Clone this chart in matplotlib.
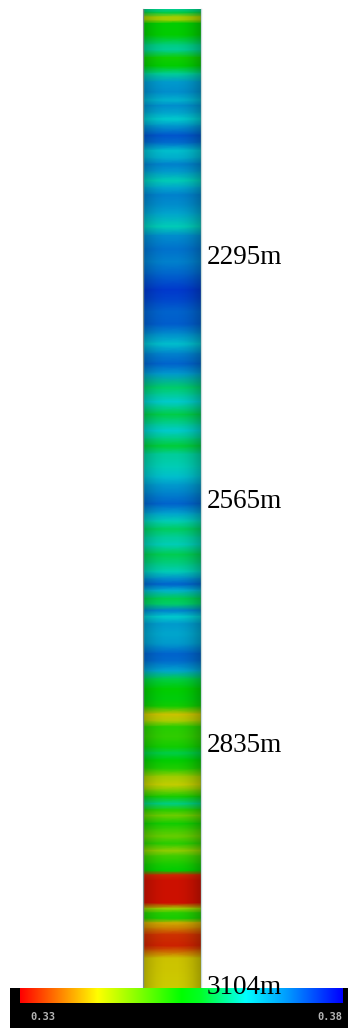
import numpy as np
import matplotlib
matplotlib.use('Agg')
import matplotlib.pyplot as plt
from matplotlib.colors import LinearSegmentedColormap, Normalize
import matplotlib.transforms as mtransforms

W, H = 348, 1028

# depth samples along the well (m) and the logged value at each
depth = [2020, 2024, 2029, 2032, 2036, 2049, 2060, 2065, 2074, 2083,
         2092, 2101, 2112, 2121, 2127, 2135, 2142, 2149, 2160, 2168,
         2177, 2185, 2192, 2200, 2210, 2218, 2226, 2237, 2247, 2261,
         2271, 2286, 2300, 2314, 2331, 2342, 2355, 2369, 2380, 2391,
         2402, 2413, 2424, 2439, 2447, 2455, 2469, 2480, 2487, 2496,
         2504, 2513, 2527, 2538, 2547, 2557, 2568, 2579, 2587, 2596,
         2605, 2613, 2624, 2634, 2643, 2651, 2657, 2664, 2673, 2679,
         2686, 2693, 2701, 2712, 2723, 2734, 2742, 2753, 2762, 2773,
         2784, 2792, 2801, 2808, 2815, 2826, 2837, 2844, 2852, 2861,
         2870, 2879, 2885, 2892, 2900, 2907, 2913, 2922, 2929, 2936,
         2944, 2952, 2958, 2967, 2974, 2979, 2985, 3010, 3016, 3021,
         3027, 3032, 3038, 3045, 3057, 3062, 3071, 3104]
value = [.3630, .3595, .3445, .3445, .3550, .3550, .3620, .3630, .3540, .3550,
         .3630, .3690, .3700, .3670, .3700, .3680, .3650, .3690, .3740, .3725,
         .3660, .3675, .3710, .3690, .3640, .3680, .3710, .3700, .3680, .3640,
         .3700, .3720, .3710, .3730, .3760, .3750, .3730, .3735, .3700, .3660,
         .3710, .3730, .3690, .3610, .3630, .3650, .3595, .3630, .3650, .3620,
         .3590, .3630, .3640, .3660, .3690, .3710, .3730, .3680, .3640, .3605,
         .3630, .3640, .3600, .3620, .3640, .3700, .3730, .3670, .3600, .3610,
         .3710, .3650, .3690, .3680, .3690, .3730, .3725, .3680, .3595, .3550,
         .3560, .3540, .3415, .3440, .3525, .3520, .3540, .3595, .3550, .3530,
         .3450, .3425, .3470, .3535, .3620, .3525, .3480, .3540, .3510, .3485,
         .3525, .3460, .3510, .3535, .3550, .3325, .3310, .3310, .3450, .3525,
         .3535, .3400, .3375, .3330, .3320, .3350, .3415, .3420]

depth_ticks = [2295, 2565, 2835, 3104]
vmin, vmax = 0.33, 0.38
cbar_labels = ['0.33', '0.38']

cmap = LinearSegmentedColormap.from_list('log', [
    (0.00, (1.0, 0.0, 0.0)),
    (0.12, (1.0, 0.5, 0.0)),
    (0.24, (1.0, 1.0, 0.0)),
    (0.50, (0.0, 1.0, 0.0)),
    (0.56, (0.0, 1.0, 0.15)),
    (0.70, (0.0, 1.0, 1.0)),
    (0.83, (0.0, 0.6, 1.0)),
    (1.00, (0.0, 0.0, 1.0)),
])
norm = Normalize(vmin, vmax)

fig = plt.figure(figsize=(W / 100, H / 100), dpi=100)

# --- the well column ---
ax = fig.add_axes([143 / W, (H - 988) / H, 58 / W, 979 / H])
d = np.array(depth, dtype=float)
v = np.array(value)
X, Y = np.meshgrid([0.0, 1.0], d)
C = np.column_stack([v, v])
ax.pcolormesh(X, Y, C, cmap=cmap, norm=norm, shading='gouraud')
ax.set_xlim(0, 1)
ax.set_ylim(depth[-1], depth[0])

# cylinder shading: darker on the left, brightest right of centre
t = np.linspace(0, 1, 120)
alpha = 0.2 + 0.3 * (1 - np.sin(np.pi * np.clip(0.12 + 0.78 * t, 0, 1))) ** 1.3
shade = np.zeros((1, t.size, 4))
shade[0, :, 3] = alpha
ax.imshow(shade, extent=(0, 1, depth[-1], depth[0]), aspect='auto',
          interpolation='bilinear', zorder=3)
ax.set_xticks([]); ax.set_yticks([])
for s in ('top', 'bottom'):
    ax.spines[s].set_visible(False)
for s in ('left', 'right'):
    ax.spines[s].set_color('#c8dcdc'); ax.spines[s].set_linewidth(1.0)

# --- colour bar strip at the bottom ---
cb_bg = fig.add_axes([10 / W, 0, (W - 10) / W, 40 / H])
cb_bg.set_facecolor('black')
cb_bg.set_xticks([]); cb_bg.set_yticks([])
for s in cb_bg.spines.values():
    s.set_visible(False)

cb = fig.add_axes([20 / W, (H - 1003) / H, 323 / W, 15 / H])
grad = np.linspace(vmin, vmax, 256)[None, :]
cb.imshow(grad, cmap=cmap, norm=norm, aspect='auto', interpolation='bilinear')
cb.set_xticks([]); cb.set_yticks([])
for s in cb.spines.values():
    s.set_visible(False)

fig.text(30 / W, 1 - 1017 / H, cbar_labels[0], color='#b4b4b4', fontsize=7.5,
         family='DejaVu Sans Mono', weight='bold', va='center', ha='left')
fig.text(317 / W, 1 - 1017 / H, cbar_labels[1], color='#b4b4b4', fontsize=7.5,
         family='DejaVu Sans Mono', weight='bold', va='center', ha='left')

# depth labels, drawn on top of everything
tr = mtransforms.blended_transform_factory(fig.transFigure, ax.transData)
for dt in depth_ticks:
    fig.text(207 / W, dt, f"{dt}m", transform=tr, family='Liberation Serif',
             fontsize=19.5, color='black', ha='left', va='center', zorder=10)

fig.savefig('out.png', dpi=100, facecolor='white')
